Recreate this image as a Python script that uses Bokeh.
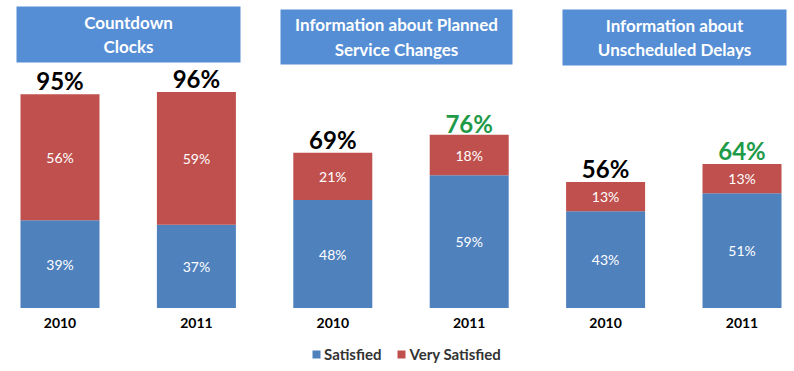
import numpy as np
from bokeh.plotting import figure
from bokeh.models import Range1d, ColumnDataSource
from bokeh.core.properties import value
from bokeh.embed import file_html
from bokeh.resources import INLINE

# ---- data ----
groups = ["Countdown\nClocks",
          "Information about Planned\nService Changes",
          "Information about\nUnscheduled Delays"]
years = ["2010", "2011", "2010", "2011", "2010", "2011"]
satisfied = [39, 37, 48, 59, 43, 51]
very_satisfied = [56, 59, 21, 18, 13, 13]
totals = [95, 96, 69, 76, 56, 64]
improved = [False, False, False, True, False, True]

# ---- style / layout ----
BLUE = "#4F81BD"
RED = "#C0504D"
HEAD = "#558ED5"
GREEN = "#1E9A48"
FONT = "Lato"
PX_PER_PCT = 2.25
BASE_Y = 307.5          # pixel row of the 0% baseline
W, H = 794, 371


def to_y(ref_y):
    return (BASE_Y - ref_y) / PX_PER_PCT


first_center, step, bar_w = 59.5, 136.4, 79
xs = first_center + step * np.arange(len(years))

p = figure(width=W, height=H, x_range=Range1d(0, W),
           y_range=Range1d(to_y(H), to_y(0)),
           output_backend="svg", toolbar_location=None,
           x_axis_type=None, y_axis_type=None, min_border=0)
p.grid.visible = False
p.outline_line_color = None

src = ColumnDataSource(dict(x=xs, sat=satisfied, very=very_satisfied,
                            tot=totals, year=years))
p.vbar_stack(["sat", "very"], x="x", width=bar_w, source=src,
             color=[BLUE, RED], line_color=None,
             legend_label=["Satisfied", "Very Satisfied"])

# inner labels
sat = np.array(satisfied, dtype=float)
very = np.array(very_satisfied, dtype=float)
p.text(x=list(xs) * 2, y=list(sat / 2) + list(sat + very / 2),
       text=[f"{v}%" for v in satisfied] + [f"{v}%" for v in very_satisfied],
       text_align="center", text_baseline="middle", text_color="white",
       text_font=value(FONT), text_font_size=value("14px"))

# totals
p.text(x=xs, y=np.array(totals) + 6.0, text=[f"{t}%" for t in totals],
       text_align="center", text_baseline="middle",
       text_color=[GREEN if g else "black" for g in improved],
       text_font=value(FONT), text_font_size=value("24px"),
       text_font_style="bold")

# year labels
p.text(x=xs, y=[to_y(322)] * len(xs), text=years,
       text_align="center", text_baseline="middle", text_color="black",
       text_font=value(FONT), text_font_size=value("14px"),
       text_font_style="bold")

# header boxes
hl = [16, 280, 562]
hr = [240, 512, 786]
ht = [6, 9, 9]
hb = [62, 64, 65]
p.quad(left=hl, right=hr, top=[to_y(v) for v in ht],
       bottom=[to_y(v) for v in hb], fill_color=HEAD, line_color=None)
p.text(x=[(a + b) / 2 for a, b in zip(hl, hr)],
       y=[to_y((a + b) / 2) for a, b in zip(ht, hb)], text=groups,
       text_align="center", text_baseline="middle", text_color="white",
       text_font=value(FONT), text_font_size=value("17px"),
       text_font_style="bold", text_line_height=1.15)

lg = p.legend[0]
lg.orientation = "horizontal"
lg.location = (311, 8)
lg.padding = 0
lg.margin = 0
lg.spacing = 15
lg.label_standoff = 3
lg.glyph_width = 10
lg.glyph_height = 10
lg.label_height = 16
lg.border_line_color = None
lg.background_fill_alpha = 0
lg.label_text_font = FONT
lg.label_text_font_size = "15px"
lg.label_text_font_style = "bold"
lg.label_text_color = "#333333"

open("out.html", "w").write(file_html(p, INLINE))
